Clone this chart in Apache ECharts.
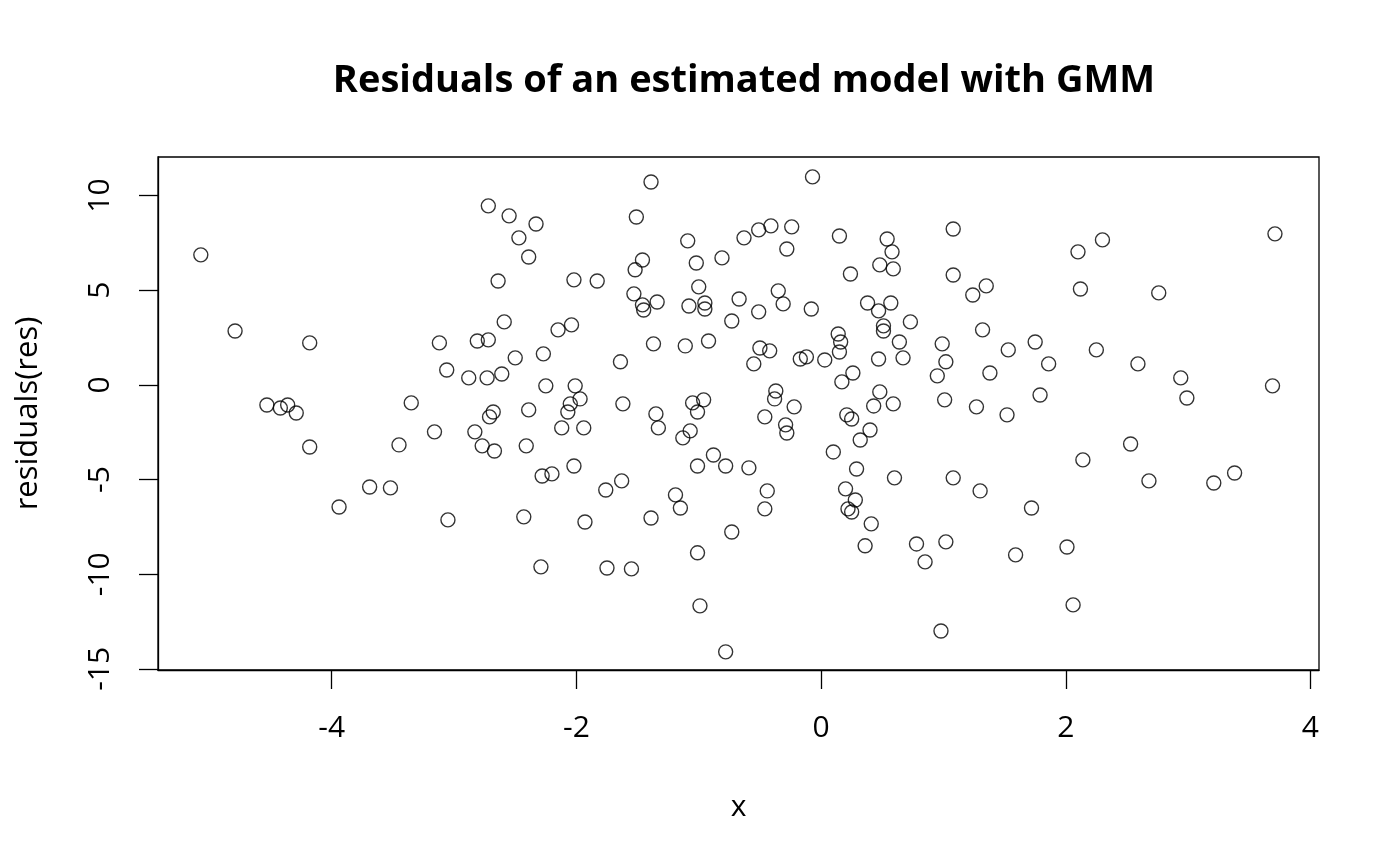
<!DOCTYPE html>
<html>
<head>
<meta charset="utf-8">
<script src="https://cdn.jsdelivr.net/npm/echarts@6/dist/echarts.min.js"></script>
<style>
html,body{margin:0;padding:0;background:#fff;}
#chart{width:1400px;height:866px;}
</style>
</head>
<body>
<div id="chart"></div>
<script>
const xValues = [
-5.07,-4.79,-4.53,-4.42,-4.36,-4.29,-4.18,-4.18,-3.94,-3.69,
-3.52,-3.45,-3.35,-3.16,-3.12,-3.06,-3.05,-2.88,-2.83,-2.81,
-2.77,-2.72,-2.72,-2.73,-2.71,-2.68,-2.67,-2.64,-2.61,-2.59,
-2.55,-2.50,-2.47,-2.43,-2.41,-2.39,-2.39,-2.33,-2.29,-2.28,
-2.27,-2.25,-2.20,-2.15,-2.12,-2.07,-2.05,-2.04,-2.02,-2.02,
-2.01,-1.97,-1.94,-1.93,-1.83,-1.76,-1.75,-1.64,-1.63,-1.62,
-1.55,-1.53,-1.52,-1.51,-1.46,-1.46,-1.45,-1.39,-1.39,-1.37,
-1.35,-1.34,-1.33,-1.19,-1.15,-1.13,-1.11,-1.09,-1.08,-1.07,
-1.05,-1.02,-1.01,-1.01,-1.01,-1.00,-0.99,-0.96,-0.95,-0.95,
-0.92,-0.88,-0.81,-0.78,-0.78,-0.73,-0.73,-0.67,-0.63,-0.59,
-0.55,-0.51,-0.51,-0.50,-0.46,-0.46,-0.44,-0.42,-0.41,-0.38,
-0.37,-0.35,-0.31,-0.29,-0.28,-0.28,-0.24,-0.22,-0.17,-0.12,
-0.08,-0.07,0.03,0.10,0.14,0.15,0.15,0.16,0.17,0.20,
0.22,0.24,0.25,0.21,0.25,0.28,0.26,0.29,0.32,0.36,
0.38,0.40,0.41,0.43,0.47,0.48,0.47,0.48,0.51,0.51,
0.54,0.57,0.58,0.59,0.59,0.60,0.64,0.67,0.73,0.78,
0.85,0.95,0.99,0.98,1.01,1.02,1.02,1.08,1.08,1.08,
1.24,1.27,1.30,1.32,1.35,1.38,1.52,1.53,1.59,1.72,
1.75,1.79,1.86,2.01,2.06,2.10,2.12,2.14,2.25,2.30,
2.53,2.59,2.68,2.76,2.94,2.99,3.21,3.38,3.69,3.71
];
const residualValues = [
6.87,2.85,-1.06,-1.22,-1.06,-1.48,2.22,-3.28,-6.45,-5.39,
-5.44,-3.17,-0.95,-2.48,2.22,0.79,-7.13,0.37,-2.48,2.32,
-3.22,9.46,2.38,0.37,-1.69,-1.43,-3.49,5.49,0.58,3.33,
8.93,1.43,7.77,-6.97,-3.22,6.76,-1.32,8.50,-9.61,-4.81,
1.64,-0.05,-4.70,2.91,-2.27,-1.43,-1.00,3.17,5.55,-4.28,
-0.05,-0.74,-2.27,-7.24,5.49,-5.55,-9.67,1.22,-5.07,-1.00,
-9.72,4.81,6.08,8.87,6.60,4.23,3.96,-7.03,10.72,2.17,
-1.53,4.38,-2.27,-5.81,-6.50,-2.80,2.06,7.61,4.17,-2.43,
-0.95,6.44,-4.28,-1.43,-8.87,5.18,-11.67,-0.79,4.33,4.01,
2.32,-3.70,6.71,-4.28,-14.10,3.38,-7.77,4.54,7.77,-4.38,
1.11,8.19,3.86,1.95,-1.69,-6.55,-5.60,1.80,8.40,-0.74,
-0.32,4.97,4.28,-2.11,-2.54,7.18,8.35,-1.16,1.37,1.48,
4.01,10.99,1.32,-3.54,2.69,1.74,7.87,2.27,0.16,-5.49,
-6.55,5.86,-6.71,-1.58,-1.80,-6.08,0.63,-4.44,-2.91,-8.50,
4.33,-2.38,-7.34,-1.11,3.91,6.34,1.37,-0.37,3.12,2.85,
7.71,4.33,7.03,6.13,-1.00,-4.91,2.27,1.43,3.33,-8.40,
-9.35,0.48,2.17,-13.00,-0.79,1.22,-8.29,8.24,5.81,-4.91,
4.75,-1.16,-5.60,2.91,5.23,0.63,-1.58,1.85,-8.98,-6.50,
2.27,-0.53,1.11,-8.56,-11.62,7.03,5.07,-3.96,1.85,7.66,
-3.12,1.11,-5.07,4.86,0.37,-0.69,-5.18,-4.65,-0.05,7.98
];
const xTicks = [-4, -2, 0, 2, 4];
const yTicks = [-15, -10, -5, 0, 5, 10];
const titleText = 'Residuals of an estimated model with GMM';
const xName = 'x';
const yName = 'residuals(res)';

const points = xValues.map((x, i) => [x, residualValues[i]]);
const FONT = '"Open Sans", "Noto Sans", sans-serif';

const chart = echarts.init(document.getElementById('chart'), null, {renderer: 'canvas'});
chart.setOption({
  animation: false,
  backgroundColor: '#fff',
  title: {
    text: titleText,
    left: 739,
    textAlign: 'center',
    top: 57,
    textStyle: {fontFamily: FONT, fontWeight: 'bold', fontSize: 38, color: '#000'}
  },
  grid: {
    left: 158, right: 81, top: 157, bottom: 196,
    show: true, borderColor: '#000', borderWidth: 1.3, backgroundColor: 'transparent'
  },
  xAxis: {
    type: 'value',
    min: -5.42, max: 4.07,
    name: xName,
    nameLocation: 'middle',
    nameGap: 122,
    nameTextStyle: {fontFamily: FONT, fontSize: 30, color: '#000'},
    axisLine: {show: true, onZero: false, lineStyle: {color: '#000', width: 1.3}},
    splitLine: {show: false},
    axisTick: {show: true, customValues: xTicks, length: 19, inside: false, lineStyle: {color: '#000', width: 1.3}},
    axisLabel: {customValues: xTicks, margin: 43, fontFamily: FONT, fontSize: 30, color: '#000'}
  },
  yAxis: {
    type: 'value',
    min: -15.06, max: 12.04,
    name: yName,
    nameLocation: 'middle',
    nameRotate: 90,
    nameGap: 114,
    nameTextStyle: {fontFamily: FONT, fontSize: 31, color: '#000'},
    axisLine: {show: true, onZero: false, lineStyle: {color: '#000', width: 1.3}},
    splitLine: {show: false},
    axisTick: {show: true, customValues: yTicks, length: 19, inside: false, lineStyle: {color: '#000', width: 1.3}},
    axisLabel: {customValues: yTicks, rotate: 90, margin: 43, fontFamily: FONT, fontSize: 30, color: '#000'}
  },
  series: [{
    type: 'scatter',
    data: points,
    symbol: 'circle',
    symbolSize: 14,
    itemStyle: {color: 'rgba(0,0,0,0)', borderColor: '#000', borderWidth: 1.4},
    emphasis: {disabled: true}
  }]
});
</script>
</body>
</html>
